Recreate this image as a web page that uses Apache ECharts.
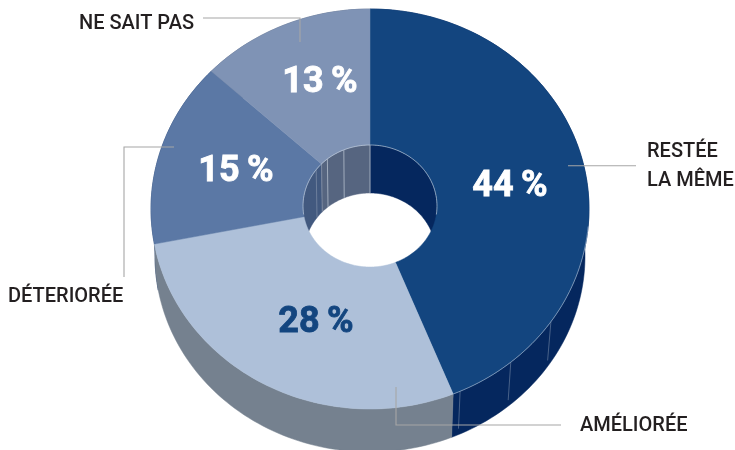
<!DOCTYPE html>
<html><head><meta charset="utf-8">
<style>html,body{margin:0;padding:0;background:#fff}#c{width:735px;height:450px}</style>
<script src="https://cdn.jsdelivr.net/npm/echarts@6/dist/echarts.min.js"></script>
</head><body><div id="c"></div>
<script>
// Data: slice shares; labels show them rounded
const categories = ['RESTÉE\nLA MÊME', 'AMÉLIORÉE', 'DÉTERIORÉE', 'NE SAIT PAS'];
const values = [43.8, 28.4, 14.9, 12.9];
// Styles per slice
const faceColors = ['#13457f', '#aec0d9', '#5b78a5', '#7f93b5'];
const outerWallColors = ['#05275e', '#75818f', '#1d3a6c', '#56657f'];
const innerWallColors = ['#05275e', '#75818f', '#42597f', '#566580'];
const percentColors = ['#fff', '#13457f', '#fff', '#fff'];
// Geometry of the tilted ring
const TOP = {cx: 370, cy: 209, rx: 219, ry: 200};
const BOT = {cx: 370, cy: 256, rx: 215, ry: 196};
const HOLE_TOP = {cx: 370, cy: 206, rx: 67, ry: 61};
const HOLE_BOT = {cx: 370, cy: 254, rx: 66, ry: 61};
// Hairline seams on the walls (degrees clockwise from 12 o'clock)
const outerSeams = [124.3, 140, 155.7];
const innerSeams = [0, 306.6, 313.7, 320.5, 337];
// Annotation layout
const percentPos = [[510, 187], [316, 323], [236, 172], [320, 83]];
const namePos = [[647, 152, 181], [580, 426], [8, 297], [79, 24]];
const leaders = [
  [[568, 165.7], [636, 165.7]],
  [[396, 387], [396, 425], [561, 425]],
  [[124, 277], [124, 147], [174, 147]],
  [[203, 18], [300, 18], [300, 42]]
];
const total = values.reduce((a, b) => a + b, 0);
function range(i) {
  let s = 0;
  for (let k = 0; k < i; k++) s += values[k];
  return [s / total * 360, (s + values[i]) / total * 360];
}
function pt(e, deg) {
  const a = deg * Math.PI / 180;
  return [e.cx + e.rx * Math.sin(a), e.cy - e.ry * Math.cos(a)];
}
function arc(e, a0, a1) {
  const n = Math.max(2, Math.ceil(Math.abs(a1 - a0) / 1.5)), p = [];
  for (let i = 0; i <= n; i++) p.push(pt(e, a0 + (a1 - a0) * i / n));
  return p;
}
function poly(points, fill, z2) {
  return {type: 'polygon', silent: true, z2: z2 || 0, shape: {points: points},
    style: {fill: fill, stroke: fill, lineWidth: 0.5}};
}
function line(points, stroke, w, op) {
  return {type: 'polyline', silent: true, z2: 5, shape: {points: points},
    style: {fill: null, stroke: stroke, lineWidth: w, opacity: op === undefined ? 1 : op}};
}
const seriesData = categories.map((n, i) => ({name: n, value: values[i]}));

function renderWalls(params, api) {
  const i = params.dataIndex, [a0, a1] = range(i), ch = [];
  // inner walls: only the far half of the hole
  const lo = Math.max(a0, 270), hi = Math.min(a1, 360);
  if (hi > lo) ch.push(poly(arc(HOLE_TOP, lo, hi).concat(arc(HOLE_BOT, hi, lo)), innerWallColors[i]));
  if (a0 < 90) {
    const h = Math.min(a1, 90);
    ch.push(poly(arc(HOLE_TOP, a0, h).concat(arc(HOLE_BOT, h, a0)), innerWallColors[i]));
  }
  // outer walls; the grey wall runs on round the far-left bend of the base
  const reach = i === 1 ? 271 : a1;
  ch.push(poly(arc(TOP, a0, a1).concat(arc(BOT, reach, a0)), outerWallColors[i], i === 1 ? 2 : 0));
  if (i === 0) {
    outerSeams.forEach(d => ch.push(line([pt(TOP, d), pt({...BOT, cy: BOT.cy - 6}, d)], '#8fa0b8', 0.8, 0.6)));
    innerSeams.forEach(d => ch.push(line([pt(HOLE_TOP, d), pt(HOLE_BOT, d)], '#b8c2d0', 0.9, d === 0 || d === 337 || d === 320.5 ? 0.85 : 0.4)));
  }
  return {type: 'group', children: ch};
}
function renderFaces(params, api) {
  const i = params.dataIndex, [a0, a1] = range(i);
  return {type: 'group', children: [poly(arc(TOP, a0, a1).concat(arc(HOLE_TOP, a1, a0)), faceColors[i])]};
}
function renderRims(params, api) {
  const ch = [];
  if (params.dataIndex === 0) {
    ch.push(line(arc(TOP, 95, range(0)[1]), '#a9b9d0', 0.8, 0.8));
    ch.push(line(arc(HOLE_TOP, 262, 458), '#c4cfde', 0.8, 0.8));
  }
  return {type: 'group', children: ch};
}
function renderLabels(params, api) {
  const i = params.dataIndex, v = Math.round(api.value(0)), ch = [];
  ch.push(line(leaders[i], '#a6a6a6', 1.1));
  ch.push({type: 'text', silent: true, z2: 6, style: {
    x: percentPos[i][0], y: percentPos[i][1], text: v + '\u2009%', align: 'center', verticalAlign: 'middle',
    fill: percentColors[i], stroke: percentColors[i], lineWidth: 0.8, font: '700 36px Roboto'}});
  categories[i].split('\n').forEach((t, k) => {
    ch.push({type: 'text', silent: true, z2: 6, style: {
      x: namePos[i][0], y: k === 0 ? namePos[i][1] : namePos[i][2], text: t, align: 'left', verticalAlign: 'middle',
      fill: '#231f20', font: '500 20px Roboto'}});
  });
  return {type: 'group', children: ch};
}
const chart = echarts.init(document.getElementById('c'), null, {renderer: 'canvas'});
chart.setOption({
  animation: false,
  backgroundColor: '#fff',
  series: [
    {type: 'custom', coordinateSystem: 'none', z: 1, data: seriesData, renderItem: renderWalls, encode: {value: 0}},
    {type: 'custom', coordinateSystem: 'none', z: 2, data: seriesData, renderItem: renderFaces, encode: {value: 0}},
    {type: 'custom', coordinateSystem: 'none', z: 3, data: seriesData, renderItem: renderRims, encode: {value: 0}},
    {type: 'custom', coordinateSystem: 'none', z: 4, data: seriesData, renderItem: renderLabels, encode: {value: 0}}
  ]
});
</script></body></html>
